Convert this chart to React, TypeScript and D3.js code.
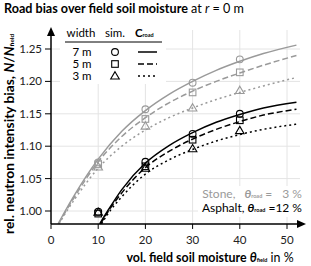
import React from "react";
import * as d3 from "d3";

const xTicks = [0, 10, 20, 30, 40, 50];
const yTicks = [1.0, 1.05, 1.1, 1.15, 1.2, 1.25];
const simTheta = [10, 20, 30, 40];

// simulated points (sim.)
const stone7 = [1.075, 1.157, 1.198, 1.234];
const stone5 = [1.072, 1.142, 1.183, 1.214];
const stone3 = [1.068, 1.131, 1.159, 1.186];
const asph7 = [0.999, 1.076, 1.119, 1.15];
const asph5 = [0.996, 1.069, 1.11, 1.14];
const asph3 = [0.998, 1.066, 1.096, 1.124];

// C_road curves [theta, value]
const stoneC7: [number, number][] = [[1.5, 0.98], [3, 1.0], [5, 1.025], [10, 1.08], [15, 1.123], [20, 1.155], [25, 1.18], [30, 1.2], [35, 1.217], [40, 1.231], [45, 1.243], [52, 1.256]];
const stoneC5: [number, number][] = [[1.6, 0.98], [3, 0.998], [5, 1.022], [10, 1.076], [15, 1.115], [20, 1.144], [25, 1.167], [30, 1.185], [35, 1.2], [40, 1.213], [45, 1.225], [52, 1.24]];
const stoneC3: [number, number][] = [[1.7, 0.98], [3, 0.996], [5, 1.018], [10, 1.066], [15, 1.1], [20, 1.125], [25, 1.144], [30, 1.159], [35, 1.172], [40, 1.183], [45, 1.193], [52, 1.206]];
const asphC7: [number, number][] = [[10.3, 0.98], [12, 1.0], [15, 1.033], [20, 1.074], [25, 1.101], [30, 1.121], [35, 1.137], [40, 1.149], [45, 1.159], [52, 1.168]];
const asphC5: [number, number][] = [[10.5, 0.98], [12, 0.998], [15, 1.028], [20, 1.067], [25, 1.092], [30, 1.111], [35, 1.126], [40, 1.138], [45, 1.148], [52, 1.157]];
const asphC3: [number, number][] = [[10.7, 0.98], [12, 0.995], [15, 1.022], [20, 1.057], [25, 1.079], [30, 1.095], [35, 1.108], [40, 1.118], [45, 1.126], [52, 1.134]];

const widths = ["7 m", "5 m", "3 m"];
const GRAY = "#9a9a9a";
const FONT = "Lato, 'Open Sans', sans-serif";

const x = d3.scaleLinear().domain([0, 50]).range([51, 287]);
const y = d3.scaleLinear().domain([1.0, 1.25]).range([211, 49]);
const line = d3.line<[number, number]>().x(d => x(d[0])).y(d => y(d[1])).curve(d3.curveMonotoneX);

const dashes = [null, "6,3", "2,3"];

function Marker({ kind, cx, cy, color }: { kind: number; cx: number; cy: number; color: string }) {
  if (kind === 0) return <circle cx={cx} cy={cy} r={3.4} fill="none" stroke={color} strokeWidth={1.1} />;
  if (kind === 1) return <rect x={cx - 3.3} y={cy - 3.3} width={6.6} height={6.6} fill="none" stroke={color} strokeWidth={1.1} />;
  const s = 4.3;
  return <path d={`M${cx},${cy - s}L${cx + s},${cy + s * 0.7}L${cx - s},${cy + s * 0.7}Z`} fill="none" stroke={color} strokeWidth={1.1} />;
}

export default function App() {
  const y0 = y(0.98);
  const xEnd = 306;
  const yTop = 27;
  const stoneSims = [stone7, stone5, stone3];
  const asphSims = [asph7, asph5, asph3];
  const stoneCurves = [stoneC7, stoneC5, stoneC3];
  const asphCurves = [asphC7, asphC5, asphC3];
  return (
    <svg width={311} height={266} style={{ position: "absolute", left: 0, top: 0, fontFamily: FONT }}>
      <rect width={311} height={266} fill="#fff" />
      {/* grid */}
      {xTicks.slice(1).map(t => (
        <line key={"gx" + t} x1={x(t)} x2={x(t)} y1={y0} y2={30} stroke="#e4e4e4" strokeWidth={1} />
      ))}
      {yTicks.map(t => (
        <line key={"gy" + t} x1={51} x2={300} y1={y(t)} y2={y(t)} stroke="#e4e4e4" strokeWidth={1} />
      ))}
      {/* legend background */}
      <rect x={60} y={24} width={106} height={60} fill="#fff" />
      {/* curves */}
      {stoneCurves.map((c, i) => (
        <path key={"sc" + i} d={line(c) || ""} fill="none" stroke={GRAY} strokeWidth={1.5} strokeDasharray={dashes[i] || undefined} />
      ))}
      {asphCurves.map((c, i) => (
        <path key={"ac" + i} d={line(c) || ""} fill="none" stroke="#000" strokeWidth={1.5} strokeDasharray={dashes[i] || undefined} />
      ))}
      {stoneSims.map((s, i) => s.map((v, j) => (
        <Marker key={"sm" + i + j} kind={i} cx={x(simTheta[j])} cy={y(v)} color={GRAY} />
      )))}
      {asphSims.map((s, i) => s.map((v, j) => (
        <Marker key={"am" + i + j} kind={i} cx={x(simTheta[j])} cy={y(v)} color="#000" />
      )))}
      {/* annotation */}
      <rect x={198} y={186} width={107} height={31} fill="#fff" />
      <text x={302} y={198} textAnchor="end" fontSize={12} fill={GRAY}>
        Stone,{"\u2003"}<tspan fontWeight="bold" fontStyle="italic">θ</tspan><tspan fontSize={5.5} fontWeight="bold">road</tspan> = {"\u20073"} %
      </text>
      <text x={302} y={212} textAnchor="end" fontSize={12} fill="#000">
        Asphalt, <tspan fontWeight="bold" fontStyle="italic">θ</tspan><tspan fontSize={5.5} fontWeight="bold">road</tspan> =12 %
      </text>
      {/* axes */}
      <line x1={51} x2={xEnd - 6} y1={y0} y2={y0} stroke="#000" strokeWidth={1.5} />
      <path d={`M${xEnd},${y0}L${xEnd - 9},${y0 - 4}L${xEnd - 9},${y0 + 4}Z`} fill="#000" />
      <line x1={51} x2={51} y1={y0} y2={yTop + 6} stroke="#000" strokeWidth={1.5} />
      <path d={`M51,${yTop}L${47},${yTop + 9}L${55},${yTop + 9}Z`} fill="#000" />
      {xTicks.map(t => (
        <g key={"xt" + t}>
          <line x1={x(t)} x2={x(t)} y1={y0} y2={y0 + 5} stroke="#000" strokeWidth={1} />
          <text x={x(t)} y={244} textAnchor="middle" fontSize={11.5} fill="#222">{t}</text>
        </g>
      ))}
      {yTicks.map(t => (
        <g key={"yt" + t}>
          <line x1={45} x2={51} y1={y(t)} y2={y(t)} stroke="#000" strokeWidth={1} />
          <text x={42} y={y(t) + 4} textAnchor="end" fontSize={11.5} fill="#222">{t.toFixed(2)}</text>
        </g>
      ))}
      {/* legend */}
      <text x={81} y={37} textAnchor="middle" fontSize={11.5}>width</text>
      <text x={115} y={37} textAnchor="middle" fontSize={11.5}>sim.</text>
      <text x={135} y={37} fontSize={11.5} fontWeight="bold">C<tspan fontSize={5.5}>road</tspan></text>
      <line x1={65} x2={162} y1={42} y2={42} stroke="#000" strokeWidth={1} />
      {widths.map((w, i) => (
        <g key={"lg" + i}>
          <text x={82} y={56 + i * 12} textAnchor="middle" fontSize={11.5}>{w}</text>
          <Marker kind={i} cx={115} cy={52 + i * 12} color="#000" />
          <line x1={138} x2={157} y1={52 + i * 12} y2={52 + i * 12} stroke="#000" strokeWidth={1.5} strokeDasharray={dashes[i] || undefined} />
        </g>
      ))}
      {/* title */}
      <text x={4} y={13} fontSize={12.6}>
        <tspan fontWeight="bold">Road bias over field soil moisture</tspan> at <tspan fontStyle="italic">r</tspan> = 0 m
      </text>
      {/* x label */}
      <text x={210} y={262} textAnchor="middle" fontSize={12.4} fontWeight="bold">
        vol. field soil moisture <tspan fontStyle="italic">θ</tspan><tspan fontSize={5.5}>field</tspan><tspan fontWeight="normal"> in %</tspan>
      </text>
      {/* y label */}
      <text transform="translate(14,134) rotate(-90)" textAnchor="middle" fontSize={13} fontWeight="bold" textLength={200} lengthAdjust="spacingAndGlyphs">
        rel. neutron intensity bias, <tspan fontStyle="italic">N</tspan>/<tspan fontStyle="italic">N</tspan><tspan fontSize={6}>field</tspan>
      </text>
    </svg>
  );
}
